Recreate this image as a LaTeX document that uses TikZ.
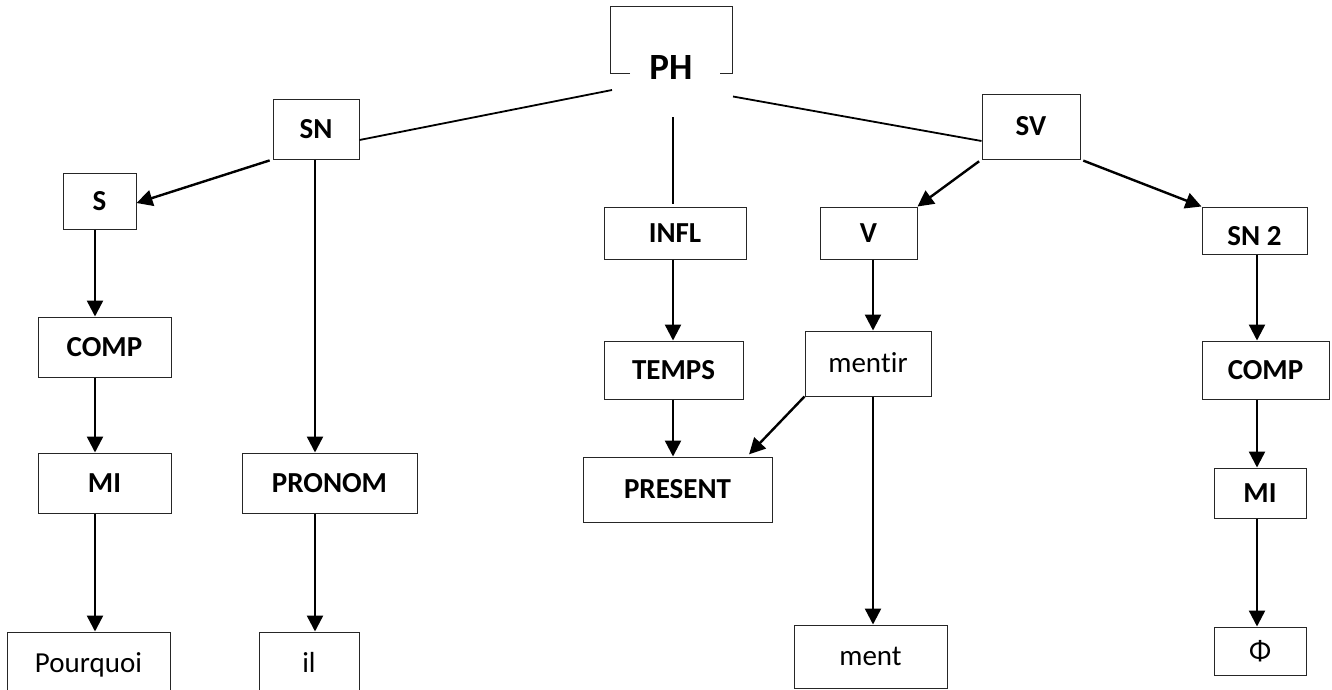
\documentclass[tikz,border=0pt]{standalone}
\usepackage{fontspec}
\setmainfont[Ligatures=NoCommon]{Carlito}
\usetikzlibrary{arrows.meta}
\tikzset{
  box/.style={draw=black!85, line width=1pt, inner sep=0pt, text height=18.5pt, text depth=0pt,
    font=\fontsize{29pt}{34pt}\selectfont},
  bbox/.style={box, font=\bfseries\fontsize{29pt}{34pt}\selectfont},
  plain/.style={line width=1.8pt, black},
  arr/.style={line width=2.4pt, black, -{Triangle[width=16pt,length=16pt]}},
}
\begin{document}
\begin{tikzpicture}[x=1pt,y=-1pt]
\useasboundingbox (0,0) rectangle (1332,689);
\clip (0,0) rectangle (1332,689);
% x positions of vertical connectors
\coordinate (xa) at (95,0);
\coordinate (xb) at (315,0);
\coordinate (xc) at (673,0);
\coordinate (xd) at (873,0);
\coordinate (xe) at (1257,0);
% PH (open box)
\node[inner sep=0pt, text height=24pt, text depth=0pt, font=\bfseries\fontsize{37pt}{40pt}\selectfont] (PH) at (671,67.5) {PH};
\draw[draw=black!85, line width=1pt] (630,73) -- (610,73) -- (610,6) -- (732,6) -- (732,73) -- (720,73);
\coordinate (phL) at (612,90);
\coordinate (phR) at (733,96.5);
\coordinate (phB) at (673,117);
% level 1
\node[bbox, minimum width=86pt, minimum height=60pt] (SN) at (316,129) {SN};
\node[bbox, minimum width=98pt, minimum height=65pt] (SV) at (1031,126.5) {SV};
% level 2
\node[bbox, minimum width=73pt, minimum height=56pt] (S) at (99.5,201) {S};
\node[bbox, minimum width=142pt, minimum height=52pt] (INFL) at (675,233) {INFL};
\node[bbox, minimum width=97pt, minimum height=52pt] (V) at (868.5,233) {V};
\node[bbox, minimum width=105pt, minimum height=47pt, text height=29pt] (SN2) at (1254.5,230.5) {SN 2};
% level 3
\node[bbox, minimum width=133pt, minimum height=60pt] (COMPa) at (104.5,347) {COMP};
\node[bbox, minimum width=139pt, minimum height=58pt] (TEMPS) at (673.5,370) {TEMPS};
\node[box, minimum width=126pt, minimum height=65pt] (mentir) at (868,363.5) {men\kern0pt t\kern0pt ir};
\node[bbox, minimum width=127pt, minimum height=58pt] (COMPb) at (1265.5,370) {COMP};
% level 4
\node[bbox, minimum width=133pt, minimum height=60pt] (MIa) at (104.5,483) {MI};
\node[bbox, minimum width=175pt, minimum height=60pt] (PRONOM) at (329.5,483) {PRONOM};
\node[bbox, minimum width=189pt, minimum height=65pt] (PRESENT) at (677.5,489.5) {PRESENT};
\node[bbox, minimum width=92pt, minimum height=50pt] (MIb) at (1260,493) {MI};
% level 5
\node[box, minimum width=163pt, minimum height=63pt] (Pourquoi) at (88.5,663.5) {Pourquoi};
\node[box, minimum width=100pt, minimum height=63pt] (il) at (309,663.5) {il};
\node[box, minimum width=153pt, minimum height=63pt] (ment) at (870.5,656.5) {ment};
\node[box, minimum width=92pt, minimum height=48pt] (Phi) at (1260,651) {Φ};
% connectors from PH
\draw[plain] (phL) -- (SN.east |- 0,140);
\draw[plain] (phR) -- (SV.west |- 0,141);
\draw[plain, shorten >=3pt] (phB) -- (INFL.north -| phB);
% arrows
\draw[arr, shorten <=3pt] (SN.south west) -- (S.east |- 0,203);
\draw[arr] (SN.south -| xb) -- (PRONOM.north -| xb);
\draw[arr] (S.south -| xa) -- (COMPa.north -| xa);
\draw[arr] (COMPa.south -| xa) -- (MIa.north -| xa);
\draw[arr] (MIa.south -| xa) -- (Pourquoi.north -| xa);
\draw[arr] (PRONOM.south -| xb) -- (il.north -| xb);
\draw[arr] (INFL.south -| xc) -- (TEMPS.north -| xc);
\draw[arr] (TEMPS.south -| xc) -- (PRESENT.north -| xc);
\draw[arr, shorten <=3pt] (SV.south west) -- (V.north east);
\draw[arr, shorten <=3pt] (SV.south east) -- (SN2.north west);
\draw[arr] (V.south -| xd) -- (mentir.north -| xd);
\draw[arr, shorten >=3pt] (mentir.south west) -- (PRESENT.north -| 747,0);
\draw[arr] (mentir.south -| xd) -- (ment.north -| xd);
\draw[arr] (SN2.south -| xe) -- (COMPb.north -| xe);
\draw[arr] (COMPb.south -| xe) -- (MIb.north -| xe);
\draw[arr] (MIb.south -| xe) -- (Phi.north -| xe);
\end{tikzpicture}
\end{document}
